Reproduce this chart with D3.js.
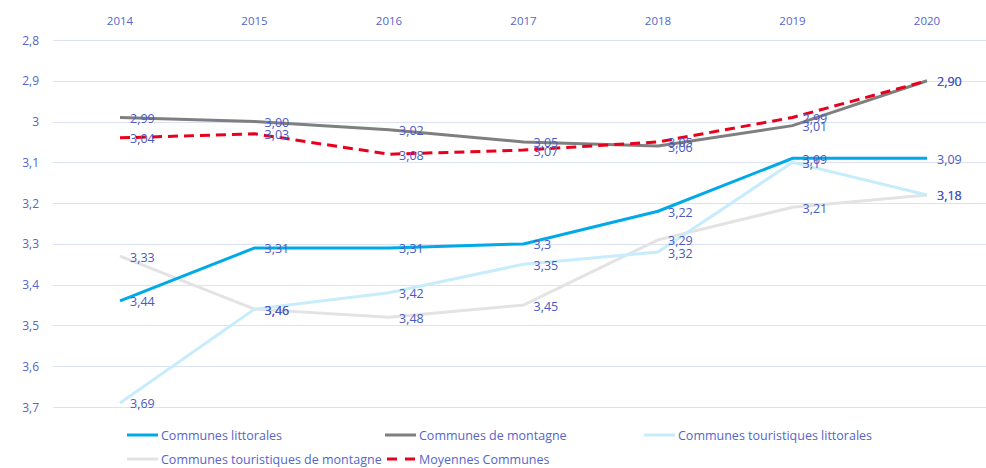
<!DOCTYPE html>
<html>
<head>
<meta charset="utf-8">
<script src="https://cdn.jsdelivr.net/npm/d3@7"></script>
<style>
    body { margin: 0; background: #fff; }
    svg { display: block; font-family: 'Open Sans', 'Noto Sans', sans-serif; }
</style>
</head>
<body>
<svg id="chart" width="986" height="468"></svg>
<script>
var years = ['2014', '2015', '2016', '2017', '2018', '2019', '2020'];
var yTicks = [2.8, 2.9, 3, 3.1, 3.2, 3.3, 3.4, 3.5, 3.6, 3.7];

var littorales = [3.44, 3.31, 3.31, 3.3, 3.22, 3.09, 3.09];
var montagne = [2.99, 3.00, 3.02, 3.05, 3.06, 3.01, 2.90];
var touristLittorales = [3.69, 3.46, 3.42, 3.35, 3.32, 3.1, 3.18];
var touristMontagne = [3.33, 3.46, 3.48, 3.45, 3.29, 3.21, 3.18];
var moyennes = [3.04, 3.03, 3.08, 3.07, 3.05, 2.99, 2.90];

// labels as they are printed in the chart
var littoralesLabels = ['3,44', '3,31', '3,31', '3,3', '3,22', '3,09', '3,09'];
var montagneLabels = ['2,99', '3,00', '3,02', '3,05', '3,06', '3,01', '2,90'];
var touristLittoralesLabels = ['3,69', '3,46', '3,42', '3,35', '3,32', '3,1', '3,18'];
var touristMontagneLabels = ['3,33', '3,46', '3,48', '3,45', '3,29', '3,21', '3,18'];
var moyennesLabels = ['3,04', '3,03', '3,08', '3,07', '3,05', '2,99', '2,90'];

var series = [
    { name: 'Communes touristiques de montagne', values: touristMontagne, labels: touristMontagneLabels, color: '#e3e3e3', dash: null },
    { name: 'Communes touristiques littorales', values: touristLittorales, labels: touristLittoralesLabels, color: '#c7ecfb', dash: null },
    { name: 'Communes de montagne', values: montagne, labels: montagneLabels, color: '#7f7f7f', dash: null },
    { name: 'Communes littorales', values: littorales, labels: littoralesLabels, color: '#00a9e8', dash: null },
    { name: 'Moyennes Communes', values: moyennes, labels: moyennesLabels, color: '#e8001c', dash: '10,6' },
];

var legendItems = [
    { name: 'Communes littorales', color: '#00a9e8', dash: null, col: 0, row: 0 },
    { name: 'Communes de montagne', color: '#7f7f7f', dash: null, col: 1, row: 0 },
    { name: 'Communes touristiques littorales', color: '#c7ecfb', dash: null, col: 2, row: 0 },
    { name: 'Communes touristiques de montagne', color: '#e3e3e3', dash: null, col: 0, row: 1 },
    { name: 'Moyennes Communes', color: '#e8001c', dash: '10,6', col: 1, row: 1 },
];

var svg = d3.select('#chart');
var textColor = '#5566c8';
var labelColor = '#4a5ac4';

var x = d3.scalePoint().domain(years).range([120, 927]);
var y = d3.scaleLinear().domain([2.8, 3.7]).range([40, 407]);

// gridlines
svg.append('g')
    .selectAll('line')
    .data(yTicks)
    .enter()
    .append('line')
    .attr('x1', 53)
    .attr('x2', 994)
    .attr('y1', (d) => Math.round(y(d)) + 0.5)
    .attr('y2', (d) => Math.round(y(d)) + 0.5)
    .attr('stroke', '#dce1f3')
    .attr('stroke-width', 1);

// y tick labels
svg.append('g')
    .selectAll('text')
    .data(yTicks)
    .enter()
    .append('text')
    .attr('x', 39)
    .attr('y', (d) => y(d))
    .attr('text-anchor', 'end')
    .attr('dominant-baseline', 'central')
    .style('font-size', '12px')
    .style('fill', textColor)
    .text((d) => String(d).replace('.', ','));

// year labels on top
svg.append('g')
    .selectAll('text')
    .data(years)
    .enter()
    .append('text')
    .attr('x', (d) => x(d))
    .attr('y', 20)
    .attr('text-anchor', 'middle')
    .attr('dominant-baseline', 'central')
    .style('font-size', '11.5px')
    .style('fill', textColor)
    .text((d) => d);

var line = d3.line()
    .x((d, i) => x(years[i]))
    .y((d) => y(d));

// lines
svg.append('g')
    .selectAll('path')
    .data(series)
    .enter()
    .append('path')
    .attr('d', (d) => line(d.values))
    .attr('fill', 'none')
    .attr('stroke', (d) => d.color)
    .attr('stroke-width', 3)
    .attr('stroke-dasharray', (d) => d.dash);

// data labels
series.forEach(function(s) {
    svg.append('g')
        .selectAll('text')
        .data(s.values)
        .enter()
        .append('text')
        .attr('x', (d, i) => x(years[i]) + 10)
        .attr('y', (d) => y(d) + 1)
        .attr('dominant-baseline', 'central')
        .style('font-size', '12.5px')
        .style('fill', labelColor)
        .text((d, i) => s.labels[i]);
});

// legend
var legendX = [127, 385, 644];
var legendY = [435, 459];

var legend = svg.append('g')
    .selectAll('g')
    .data(legendItems)
    .enter()
    .append('g')
    .attr('transform', (d) => `translate(${legendX[d.col]}, ${legendY[d.row]})`);

legend.append('line')
    .attr('x1', 0)
    .attr('x2', 31)
    .attr('stroke', (d) => d.color)
    .attr('stroke-width', 3)
    .attr('stroke-dasharray', (d) => d.dash ? '10,8' : null)
    .attr('stroke-dashoffset', (d) => d.dash ? -2 : null);

legend.append('text')
    .attr('x', 34)
    .attr('dominant-baseline', 'central')
    .style('font-size', '12.5px')
    .style('fill', textColor)
    .text((d) => d.name);
</script>
</body>
</html>
